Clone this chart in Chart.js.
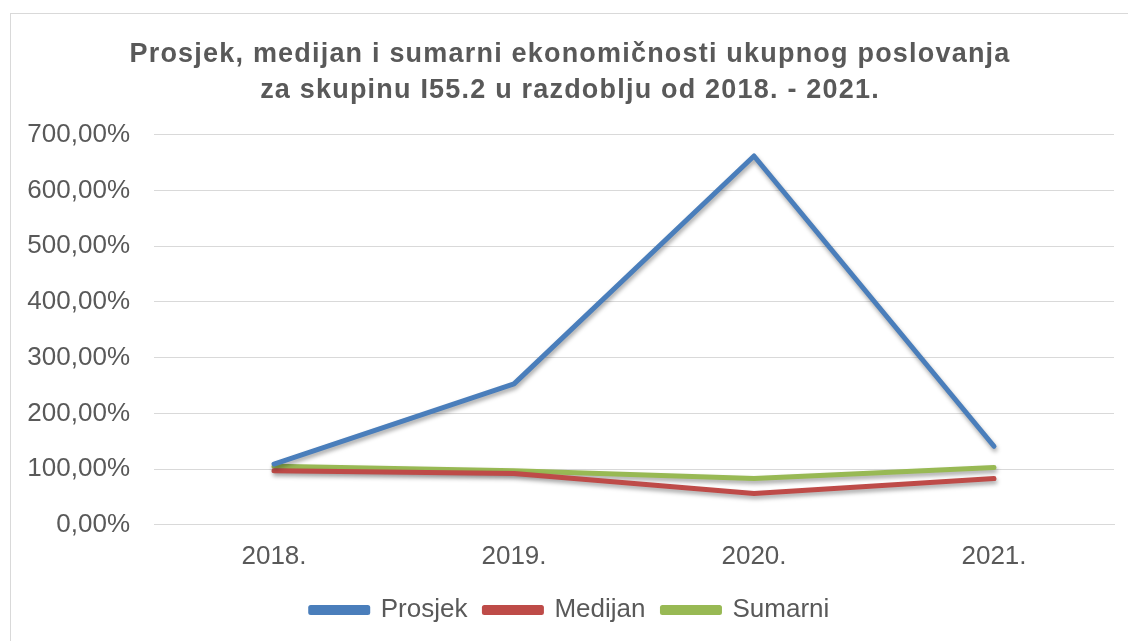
<!DOCTYPE html>
<html>
<head>
<meta charset="utf-8">
<script src="https://cdn.jsdelivr.net/npm/chart.js@4/dist/chart.umd.min.js"></script>
<style>
  html, body { margin: 0; padding: 0; background: #fff; }
  #wrap { position: absolute; left: 10px; top: 13px; width: 1117px; height: 627px; border: 1px solid #d9d9d9; border-right: none; border-bottom: none; }
</style>
</head>
<body>
<div id="wrap"><canvas id="lineChart"></canvas></div>
<script>
const years = ['2018.', '2019.', '2020.', '2021.'];
const prosjek = [109, 253, 662, 141];
const medijan = [97, 92, 56, 83];
const sumarni = [105, 97, 83, 103];
const yTicks = [0, 100, 200, 300, 400, 500, 600, 700];

const titleLines = [
  'Prosjek, medijan i sumarni ekonomičnosti ukupnog poslovanja',
  'za skupinu I55.2 u razdoblju od 2018. - 2021.'
];

// soft drop shadow under the lines, like the office chart
const lineShadow = {
  id: 'lineShadow',
  beforeDatasetsDraw(chart) {
    const ctx = chart.ctx;
    ctx.save();
    ctx.shadowColor = 'rgba(0,0,0,0.35)';
    ctx.shadowBlur = 4;
    ctx.shadowOffsetX = 1;
    ctx.shadowOffsetY = 3;
  },
  afterDatasetsDraw(chart) {
    chart.ctx.restore();
  }
};

// the title in the original is set a little wider
const titleSpacing = {
  id: 'titleSpacing',
  beforeDraw(chart) {
    const tb = chart.titleBlock;
    if (!tb || tb._spaced) return;
    const orig = tb.draw.bind(tb);
    tb.draw = function () {
      chart.ctx.save();
      chart.ctx.letterSpacing = '1.2px';
      orig();
      chart.ctx.restore();
    };
    tb._spaced = true;
  }
};

function series(label, data, color) {
  return {
    label: label,
    data: data,
    borderColor: color,
    backgroundColor: color,
    borderWidth: 5,
    pointRadius: 0,
    tension: 0,
    borderCapStyle: 'round',
    borderJoinStyle: 'round'
  };
}

const ctx = document.getElementById('lineChart').getContext('2d');
new Chart(ctx, {
  type: 'line',
  data: {
    labels: years,
    datasets: [
      series('Prosjek', prosjek, '#4a7ebb'),
      series('Medijan', medijan, '#be4b48'),
      series('Sumarni', sumarni, '#98b954')
    ]
  },
  plugins: [lineShadow, titleSpacing],
  options: {
    responsive: true,
    maintainAspectRatio: false,
    animation: false,
    layout: { padding: { left: 15, right: 14, top: 11, bottom: 8 } },
    scales: {
      x: {
        offset: true,
        grid: { display: false },
        border: { color: '#d9d9d9' },
        ticks: { font: { family: 'Liberation Sans', size: 26 }, color: '#595959', padding: 8 }
      },
      y: {
        min: 0,
        max: 700,
        afterBuildTicks: axis => { axis.ticks = yTicks.map(v => ({ value: v })); },
        afterFit: axis => { axis.width = 128; },
        grid: { color: '#d9d9d9', lineWidth: 1, drawTicks: false },
        border: { display: false },
        ticks: {
          font: { family: 'Liberation Sans', size: 26 },
          color: '#595959',
          padding: 24,
          callback: v => v.toFixed(2).replace('.', ',') + '%'
        }
      }
    },
    plugins: {
      title: {
        display: true,
        text: titleLines,
        color: '#595959',
        font: { family: 'Liberation Sans', size: 27, weight: 'bold', lineHeight: 1.33 },
        padding: { top: 12, bottom: 26 }
      },
      legend: {
        position: 'bottom',
        labels: {
          boxWidth: 57,
          boxHeight: 5,
          color: '#595959',
          font: { family: 'Liberation Sans', size: 26 },
          padding: 17
        }
      },
      tooltip: { enabled: false }
    }
  }
});
</script>
</body>
</html>
